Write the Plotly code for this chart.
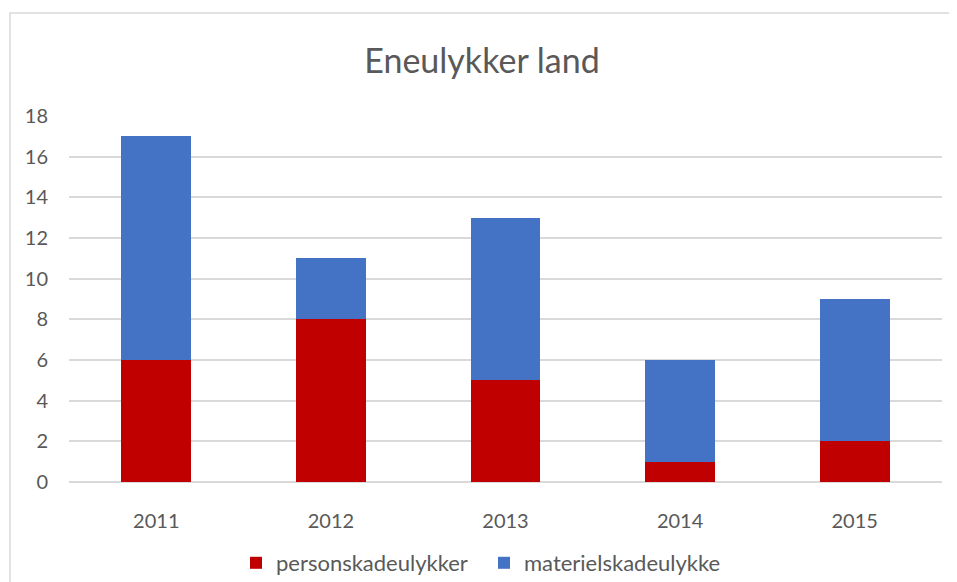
import plotly.graph_objects as go

years = ["2011", "2012", "2013", "2014", "2015"]
person = [6, 8, 5, 1, 2]
materiel = [11, 3, 8, 5, 7]
y_ticks = [0, 2, 4, 6, 8, 10, 12, 14, 16, 18]

FONT = "Lato"
TXT = "#595959"

fig = go.Figure()
fig.add_trace(go.Bar(x=years, y=person, name="personskadeulykker",
                     marker=dict(color="#C00000", line=dict(width=0))))
fig.add_trace(go.Bar(x=years, y=materiel, name="materielskadeulykke",
                     marker=dict(color="#4472C4", line=dict(width=0))))

OFF = 8  # page body margin
W, H = 957 - OFF, 582 - OFF
L, T = 69 - OFF, 116 - OFF
R = W - (942 - OFF)
B = H - (482 - OFF)
pw = W - L - R
ph = H - T - B

def px_x(px):
    return (px - OFF - L) / pw

def px_y(py):
    return (H - B - (py - OFF)) / ph

fig.update_layout(
    width=W, height=H,
    barmode="stack", bargap=0.6,
    margin=dict(l=L, r=R, t=T, b=B, autoexpand=False),
    paper_bgcolor="white", plot_bgcolor="white",
    font=dict(family=FONT, color=TXT, size=20),
    title=dict(text="Eneulykker land", x=(482 - OFF) / W, xref="container", xanchor="center",
               y=1 - (61 - OFF) / H, yanchor="middle", font=dict(size=34, color=TXT, family=FONT)),
    xaxis=dict(showgrid=False, showline=False, zeroline=False, ticks="",
               ticklabelstandoff=25, tickfont=dict(size=20, color=TXT)),
    yaxis=dict(range=[0, 18], tickvals=y_ticks, showgrid=True, gridcolor="#D9D9D9",
               gridwidth=1.5, zeroline=True, zerolinecolor="#D9D9D9", zerolinewidth=1.5,
               showline=False, ticks="", ticklabelstandoff=20,
               tickfont=dict(size=20, color=TXT)),
    legend=dict(orientation="h", x=px_x(236), xanchor="left", y=px_y(563), yanchor="middle",
                font=dict(size=22, color=TXT), traceorder="normal", itemwidth=30,
                entrywidth=203, entrywidthmode="pixels",
                bgcolor="rgba(0,0,0,0)"),
    shapes=[dict(type="rect", xref="paper", yref="paper",
                 x0=px_x(10), x1=px_x(975), y0=px_y(600), y1=px_y(13),
                 line=dict(color="#D9D9D9", width=1.5), fillcolor="rgba(0,0,0,0)", layer="below")],
)

fig.write_html("out.html")
